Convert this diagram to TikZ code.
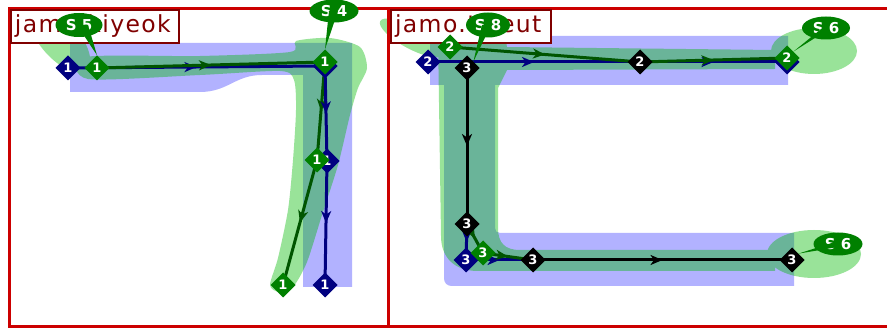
\documentclass[tikz,border=0pt]{standalone}
\usepackage{fontspec}
\setmainfont{DejaVu Sans}
\usetikzlibrary{shapes.geometric,arrows.meta,decorations.markings,calc}
\definecolor{frameRed}{RGB}{204,0,0}
\definecolor{labelRed}{RGB}{128,0,0}
\definecolor{nodeBlue}{RGB}{0,0,128}
\definecolor{nodeGreen}{RGB}{0,128,0}
\definecolor{lineGreen}{RGB}{0,85,0}
\definecolor{shapeBlue}{RGB}{0,0,255}
\definecolor{shapeGreen}{RGB}{0,185,0}
\pgfdeclarelayer{shapes}
\pgfdeclarelayer{links}
\pgfsetlayers{shapes,links,main}
\tikzset{
  dia/.style={regular polygon, regular polygon sides=4, shape border rotate=45, minimum size=25pt, inner sep=0pt, text=white, font=\bfseries\fontsize{13}{13}\selectfont},
  dblue/.style={dia, fill=nodeBlue},
  dgreen/.style={dia, fill=nodeGreen},
  dblack/.style={dia, fill=black},
  callout/.style={ellipse, fill=nodeGreen, text=white, inner sep=0pt, minimum width=48pt, minimum height=24pt, font=\bfseries\fontsize{15}{15}\selectfont},
  midarrow/.style={postaction={decorate}, decoration={markings, mark=at position 0.5 with {\arrow{Stealth[length=12pt,width=10pt,inset=3.5pt]}}}},
  navyl/.style={draw=nodeBlue, line width=3pt, midarrow},
  greenl/.style={draw=lineGreen, line width=3pt, midarrow},
  blackl/.style={draw=black, line width=3pt, midarrow},
  labelbox/.style={draw=labelRed, line width=2pt, fill=white, text=labelRed, anchor=north west, minimum height=33pt, inner xsep=4pt, align=left, font=\fontsize{23.5}{23.5}\selectfont\addfontfeature{LetterSpace=6}},
  tail/.style={fill=nodeGreen}
}
\begin{document}
\begin{tikzpicture}[x=1pt,y=-1pt]
\useasboundingbox (0,0) rectangle (887,331);
% ---------- shapes ----------
\begin{pgfonlayer}{shapes}
\fill[white] (0,0) rectangle (887,331);
% blue reference shapes
\fill[shapeBlue, fill opacity=0.3] (70,43) -- (352,43) -- (352,287) -- (303,287) -- (303,75) -- (262,75) .. controls (235,75) and (228,92) .. (200,92) -- (70,92) -- cycle;
\fill[shapeBlue, fill opacity=0.3] (430,36) -- (788,36) -- (788,85) -- (495,85) -- (495,228) .. controls (495,231) and (497,233) .. (500,233) -- (794,233) -- (794,286) -- (452,286) .. controls (447,286) and (444,283) .. (444,278) -- (444,85) -- (430,85) -- cycle;
% green shapes
\begin{scope}[transparency group, opacity=0.4]
\fill[shapeGreen, rotate around={-48:(60,40)}] (60,40) ellipse [x radius=40pt, y radius=19pt];
\fill[shapeGreen] plot[smooth cycle, tension=0.45] coordinates {(85,57) (200,56) (290,52) (296,41) (330,38) (360,47) (367,68) (358,88) (350,115) (338,165) (322,215) (307,262) (293,287) (279,292) (270,285) (278,258) (288,210) (293,160) (296,110) (294,80) (280,71) (200,75) (88,79)};
\fill[shapeGreen] (438,36) -- (505,36) -- (507,47) -- (775,50) -- (775,69) -- (507,70) -- (498,88) -- (498,228) .. controls (498,243) and (505,250) .. (520,250) -- (775,250) -- (775,271) -- (478,271) .. controls (455,271) and (441,258) .. (441,236) -- cycle;
\fill[shapeGreen] (814,51) ellipse [x radius=43pt, y radius=23pt];
\fill[shapeGreen] (814,254) ellipse [x radius=47pt, y radius=24pt];
\fill[shapeGreen, rotate around={-28:(412,38)}] (412,38) ellipse [x radius=36pt, y radius=11pt];
\end{scope}
% frames
\draw[frameRed, line width=3pt] (9,9) rectangle (388,327);
\draw[frameRed, line width=3pt] (388,9) rectangle (900,327);
\end{pgfonlayer}
% ---------- labels ----------
\node[labelbox, minimum width=168pt, text width=160pt] (lab1) at (10,9) {jamo.kiyeok};
\node[labelbox, minimum width=160pt, text width=152pt] (lab2) at (390,9) {jamo.tikeut};
% ---------- nodes: left ----------
\node[dblue]  (lb1) at (68,68)  {1};
\node[dgreen] (lg1) at (97,68)  {1};
\node[dblue]  (lb2) at (325,66) {1};
\node[dgreen] (lg2) at (325,62) {1};
\node[dblue]  (lb3) at (327,161) {1};
\node[dgreen] (lg3) at (317,160) {1};
\node[dblue]  (lb4) at (325,285) {1};
\node[dgreen] (lg4) at (283,285) {1};
% ---------- nodes: right ----------
\node[dblue]  (rb1) at (428,62) {2};
\node[dgreen] (rg1) at (450,47) {2};
\node[dblack] (rk1) at (467,68) {3};
\node[dblack] (rk2) at (640,62) {2};
\node[dblue]  (rb2) at (787,62) {2};
\node[dgreen] (rg2) at (787,58) {2};
\node[dblack] (rk3) at (467,224) {3};
\node[dblue]  (rb3) at (466,260) {3};
\node[dgreen] (rg3) at (483,253) {3};
\node[dblack] (rk4) at (533,260) {3};
\node[dblack] (rk5) at (792,260) {3};
% ---------- links ----------
\begin{pgfonlayer}{links}
\draw[navyl] (lb1.center) -- (lb2.center);
\draw[greenl] (lg1.center) -- (lg2.center);
\draw[greenl] (lg2.center) -- (lg3.center);
\draw[greenl] (lg3.center) -- (lg4.center);
\draw[navyl] (lb2.center) -- (lb3.center);
\draw[navyl] (lb3.center) -- (lb4.center);
\draw[navyl] (rb1.center) -- (rk2.center);
\draw[greenl] (rg1.center) -- (rk2.center);
\draw[navyl] (rk2.center) -- (rb2.center);
\draw[greenl] (rk2.center) -- (rg2.center);
\draw[blackl] (rk1.center) -- (rk3.center);
\draw[navyl] (rk3.center) -- (rb3.center);
\draw[greenl] (rk3.center) -- (rg3.center);
\draw[navyl] (rb3.center) -- (rk4.center);
\draw[greenl] (rg3.center) -- (rk4.center);
\draw[blackl] (rk4.center) -- (rk5.center);
\end{pgfonlayer}
% ---------- callouts ----------
\node[callout, minimum width=47pt] (s5) at (79,25) {S 5};
\fill[tail] ($(s5.center)+(-2,0)$) -- ($(s5.center)+(9,0)$) -- (lg1.north) -- cycle;
\node[callout, minimum width=49pt, minimum height=23pt] (s4) at (334,11) {S 4};
\fill[tail] ($(s4.center)+(-5,0)$) -- ($(s4.center)+(4,0)$) -- (lg2.north) -- cycle;
\node[callout, minimum width=44pt, minimum height=25pt] (s8) at (488,25) {S 8};
\fill[tail] ($(s8.center)+(-6,0)$) -- ($(s8.center)+(3,0)$) -- ($(rk1.north)!0.5!(rk1.east)$) -- cycle;
\node[callout, minimum height=23pt] (s6a) at (826,28) {S 6};
\fill[tail] ($(s6a.center)+(0,-3)$) -- ($(s6a.center)+(0,3)$) -- ($(rg2.north)!0.5!(rg2.east)$) -- cycle;
\node[callout, minimum width=49pt, minimum height=23pt] (s6b) at (838,244) {S 6};
\fill[tail] ($(s6b.center)+(0,-3)$) -- ($(s6b.center)+(0,3)$) -- ($(rk5.north)!0.5!(rk5.east)$) -- cycle;
\end{tikzpicture}
\end{document}
